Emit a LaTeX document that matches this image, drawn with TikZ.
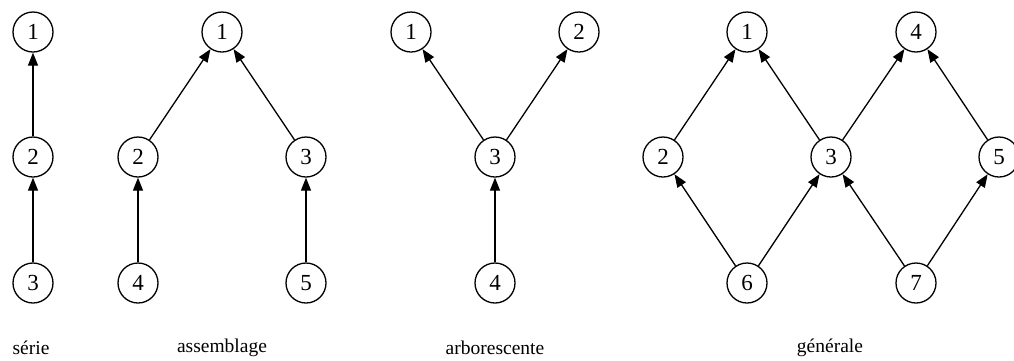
\documentclass[tikz,border=0pt]{standalone}
\usepackage{fontspec}
\setmainfont{Liberation Serif}
\usetikzlibrary{arrows.meta}
\begin{document}
\begin{tikzpicture}[x=1pt,y=-1pt,
  vtx/.style={circle,draw,line width=1.3pt,minimum size=40pt,inner sep=0pt,font=\fontsize{23}{23}\selectfont},
  lbl/.style={font=\fontsize{19.5}{19.5}\selectfont,inner sep=0pt},
  arr/.style={-{Triangle[length=13pt,width=10pt]},line width=1.3pt}]
\useasboundingbox (0,0) rectangle (1014,360);
% serie
\node[vtx] (s1) at (33,32) {1};
\node[vtx] (s2) at (33,157) {2};
\node[vtx] (s3) at (33,283) {3};
\draw[arr] (s2) -- (s1);
\draw[arr] (s3) -- (s2);
\node[lbl] (ls) at (31,348) {série};
% assemblage
\node[vtx] (a1) at (222,32) {1};
\node[vtx] (a2) at (138,157) {2};
\node[vtx] (a3) at (306,157) {3};
\node[vtx] (a4) at (138,283) {4};
\node[vtx] (a5) at (306,283) {5};
\draw[arr] (a2) -- (a1);
\draw[arr] (a3) -- (a1);
\draw[arr] (a4) -- (a2);
\draw[arr] (a5) -- (a3);
\node[lbl] (la) at (222,348) {assemblage};
% arborescente
\node[vtx] (b1) at (411,32) {1};
\node[vtx] (b2) at (579,32) {2};
\node[vtx] (b3) at (495,157) {3};
\node[vtx] (b4) at (495,283) {4};
\draw[arr] (b3) -- (b1);
\draw[arr] (b3) -- (b2);
\draw[arr] (b4) -- (b3);
\node[lbl] (lb) at (495,348) {arborescente};
% generale
\node[vtx] (g1) at (747,32) {1};
\node[vtx] (g4) at (916,32) {4};
\node[vtx] (g2) at (663,157) {2};
\node[vtx] (g3) at (831,157) {3};
\node[vtx] (g5) at (999,157) {5};
\node[vtx] (g6) at (747,283) {6};
\node[vtx] (g7) at (916,283) {7};
\draw[arr] (g2) -- (g1);
\draw[arr] (g3) -- (g1);
\draw[arr] (g3) -- (g4);
\draw[arr] (g5) -- (g4);
\draw[arr] (g6) -- (g2);
\draw[arr] (g6) -- (g3);
\draw[arr] (g7) -- (g3);
\draw[arr] (g7) -- (g5);
\node[lbl] (lg) at (830,348) {générale};
\end{tikzpicture}
\end{document}
